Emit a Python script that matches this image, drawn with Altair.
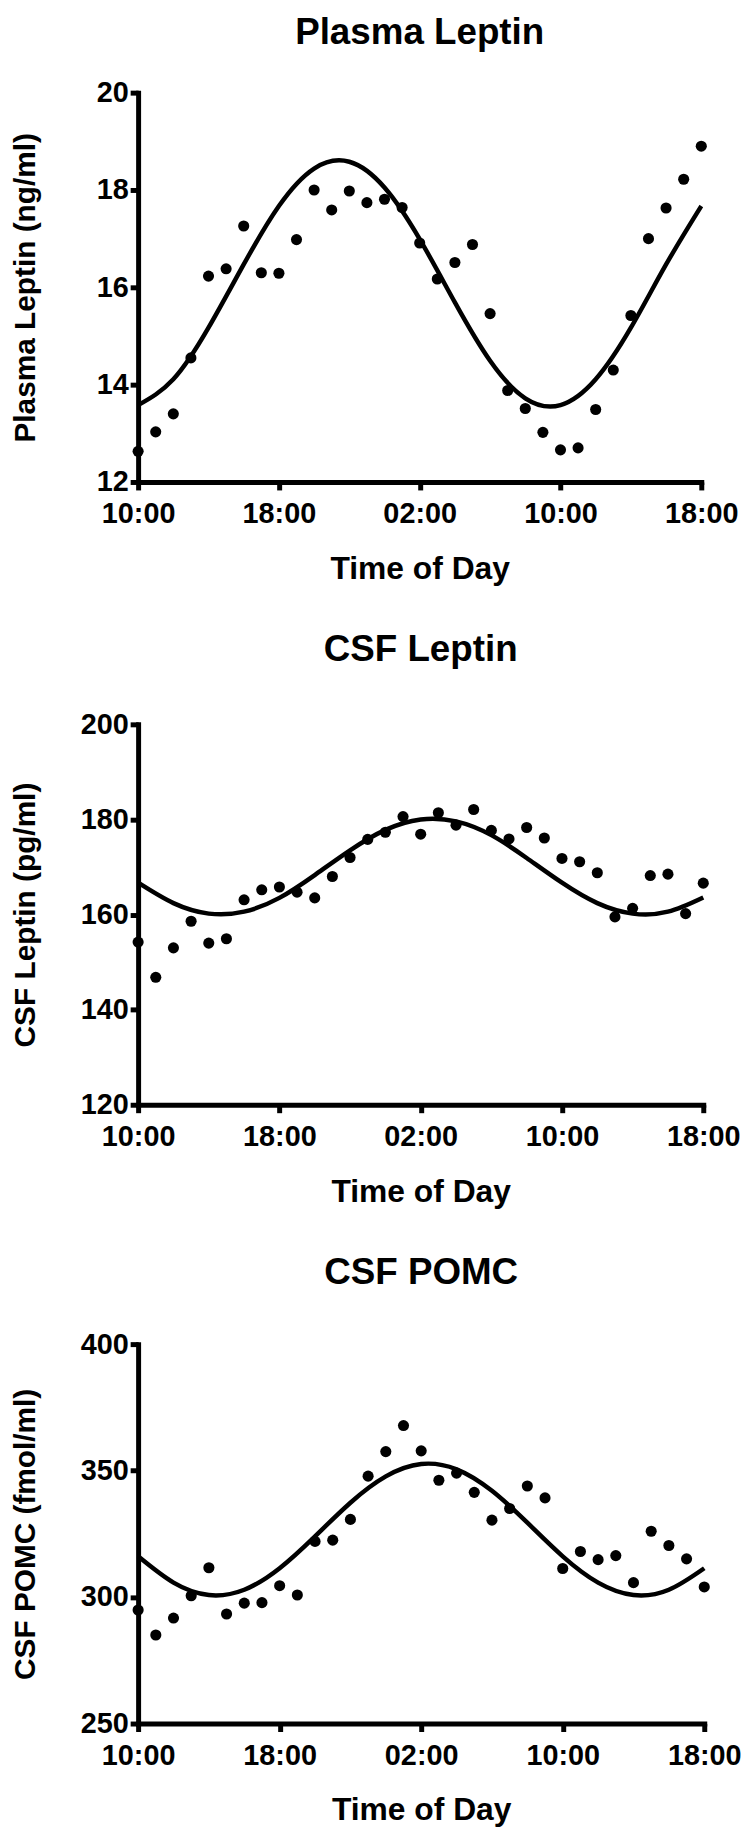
import json
import altair as alt
import pandas as pd

# ---- data ----
hours = [0, 1, 2, 3, 4, 5, 6, 7, 8, 9, 10, 11, 12, 13, 14, 15, 16,
         17, 18, 19, 20, 21, 22, 23, 24, 25, 26, 27, 28, 29, 30, 31, 32]
fit_hours = [0, 2, 4, 6, 8, 10, 12, 14, 16, 18, 20, 22, 24, 26, 28, 30, 32]
tick_hours = [0, 8, 16, 24, 32]
tick_labels = ["10:00", "18:00", "02:00", "10:00", "18:00"]

plasma_points = [12.63, 13.03, 13.40, 14.55, 16.23, 16.38, 17.26, 16.30, 16.29, 16.98,
                 18.00, 17.59, 17.98, 17.74, 17.81, 17.64, 16.91, 16.17, 16.51, 16.88,
                 15.46, 13.88, 13.51, 13.02, 12.66, 12.70, 13.49, 14.30, 15.42, 17.00,
                 17.63, 18.22, 18.90]
plasma_fit = [13.58, 14.11, 15.17, 16.47, 17.67, 18.44, 18.58, 18.05, 16.99, 15.69,
              14.49, 13.72, 13.58, 14.11, 15.17, 16.47, 17.67]

csf_leptin_points = [154.2, 146.8, 153.0, 158.6, 154.0, 154.9, 163.1, 165.2, 165.8, 164.7,
                     163.5, 168.0, 172.0, 175.8, 177.3, 180.6, 176.9, 181.4, 178.8, 182.1,
                     177.7, 175.9, 178.3, 176.1, 171.8, 171.1, 168.8, 159.5, 161.3, 168.2,
                     168.5, 160.2, 166.6]
csf_leptin_fit = [166.7, 162.4, 160.2, 160.6, 163.5, 168.3, 173.5, 177.8, 180.0, 179.6,
                  176.7, 171.9, 166.7, 162.4, 160.2, 160.6, 163.6]

csf_pomc_points = [294.9, 285.0, 291.7, 300.5, 311.6, 293.3, 297.6, 297.8, 304.5, 300.8,
                   322.0, 322.5, 330.7, 347.8, 357.5, 367.8, 357.8, 346.2, 349.0, 341.4,
                   330.4, 335.0, 343.9, 339.2, 311.3, 318.0, 314.8, 316.4, 305.7, 326.0,
                   320.4, 315.1, 304.0]
csf_pomc_fit = [316.1, 305.7, 300.8, 302.9, 311.4, 324.0, 337.3, 347.7, 352.6, 350.5,
                342.0, 329.4, 316.1, 305.7, 300.8, 302.9, 311.4]

FONT = "Liberation Sans"
label_expr = json.dumps(tick_labels) + "[round(datum.value / 8)]"


def panel(title, ytitle, pts, fit, ydomain, yticks, width, height, ytp, toffset):
    df_pts = pd.DataFrame({"h": hours, "v": pts})
    df_fit = pd.DataFrame({"h": fit_hours, "v": fit})
    x = alt.X("h:Q",
              scale=alt.Scale(domain=[0, 32], nice=False, zero=False),
              axis=alt.Axis(values=tick_hours, labelExpr=label_expr,
                            title="Time of Day", labelFlush=False,
                            labelOverlap=False))
    y = alt.Y("v:Q",
              scale=alt.Scale(domain=ydomain, nice=False, zero=False),
              axis=alt.Axis(values=yticks, title=ytitle, titlePadding=ytp,
                            labelOverlap=False))
    line = alt.Chart(df_fit).mark_line(
        interpolate="natural", color="black", strokeWidth=4.5
    ).encode(x=x, y=y)
    dots = alt.Chart(df_pts).mark_circle(
        color="black", opacity=1, size=125
    ).encode(x=x, y=y)
    return alt.layer(line, dots).properties(
        width=width, height=height,
        title=alt.TitleParams(title, offset=toffset, frame="group", anchor="middle",
                              fontSize=37, font=FONT, fontWeight="bold", color="black"))


p1 = panel("Plasma Leptin", "Plasma Leptin (ng/ml)", plasma_points, plasma_fit,
           [12, 20], [12, 14, 16, 18, 20], 567, 392, 56, 27)
p2 = panel("CSF Leptin", "CSF Leptin (pg/ml)", csf_leptin_points, csf_leptin_fit,
           [120, 200], [120, 140, 160, 180, 200], 569, 383, 40, 42)
p3 = panel("CSF POMC", "CSF POMC (fmol/ml)", csf_pomc_points, csf_pomc_fit,
           [250, 400], [250, 300, 350, 400], 570, 382, 40, 39)

chart = alt.vconcat(p1, p2, p3, spacing=47).properties(
    padding={"left": 2, "top": 0, "right": 0, "bottom": 2}
).configure_view(stroke=None).configure_axis(
    domainColor="black", domainWidth=5, domainCap="square",
    tickColor="black", tickWidth=5, tickSize=8,
    labelFont=FONT, labelFontSize=29, labelFontWeight="bold", labelColor="black",
    titleFont=FONT, titleFontSize=32, titleFontWeight="bold", titleColor="black",
    grid=False
).configure_axisX(labelPadding=10, titlePadding=25).configure_axisY(
    labelPadding=2, titleFontSize=30
)

chart.save("out.html", embed_options={"renderer": "svg", "actions": False})
